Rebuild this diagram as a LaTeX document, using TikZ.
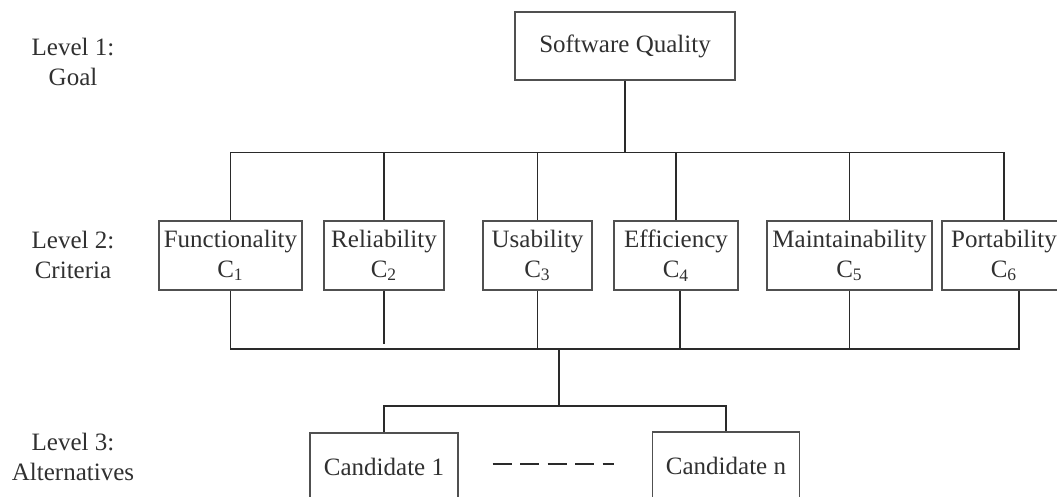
\documentclass[tikz,border=0pt]{standalone}
\usepackage{fontspec}
\setmainfont{Liberation Serif}
\usepackage{xcolor}
\definecolor{boxgray}{HTML}{505050}
\definecolor{linegray}{HTML}{2A2A2A}
\definecolor{txtgray}{HTML}{303030}
\usepackage{tikz}
\usetikzlibrary{calc,positioning}

\begin{document}
\begin{tikzpicture}[x=0.5pt,y=-0.5pt,
                      font=\fontsize{12.5}{15}\selectfont,
                      box/.style={rectangle,draw=boxgray,line width=0.7pt,
                                  minimum height=34.5pt,inner sep=1pt,
                                  align=center,text=txtgray},
                      lvl/.style={align=center,text=txtgray},
                      link/.style={draw=linegray,line width=0.6pt}]
    \useasboundingbox (0,0) rectangle (1057,497);
    % levels
    \node[lvl] (lv1) at (73,62) {Level 1:\\Goal};
    \node[lvl] (lv2) at (73,255) {Level 2:\\Criteria};
    \node[lvl] (lv3) at (73,457) {Level 3:\\Alternatives};
    % goal
    \node[box,minimum width=110pt,minimum height=34pt] (sq) at (625,46) {Software Quality};
    % criteria
    \node[box,minimum width=71.5pt] (fun) at (230.5,255.5) {Functionality\\C\textsubscript{1}};
    \node[box,minimum width=60pt] (rel) at (384,255.5) {Reliability\\C\textsubscript{2}};
    \node[box,minimum width=54.5pt] (usa) at (537.5,255.5) {Usability\\C\textsubscript{3}};
    \node[box,minimum width=62pt] (eff) at (676,255.5) {Efficiency\\C\textsubscript{4}};
    \node[box,minimum width=82.5pt] (mai) at (849.5,255.5) {Maintainability\\C\textsubscript{5}};
    \node[box,minimum width=62pt] (por) at (1004,255.5) {Portability\\C\textsubscript{6}};
    % alternatives
    \node[box,minimum width=74pt,minimum height=34pt] (can1) at (384,467) {Candidate 1};
    \node[box,minimum width=73.5pt,minimum height=34pt] (cann) at (726,466) {Candidate n};
    % goal to criteria
    \draw[link,line width=0.9pt] (sq.south) -- ++(0,72) coordinate (tophub);
    \foreach \c in {fun,rel,usa,eff,mai,por}
      \draw[link] (tophub) -| (\c.north);
    % criteria to alternatives
    \coordinate (lowhub) at (559,349);
    \draw[link] (fun.south) |- (lowhub);
    \draw[link] (rel.south) -- ($(rel.south |- lowhub)+(0,-5)$);
    \draw[link] (usa.south) |- (lowhub);
    \draw[link] ($(eff.south)+(4,0)$) |- (lowhub);
    \draw[link] (mai.south) |- (lowhub);
    \draw[link] ($(por.south)+(15,0)$) |- (lowhub);
    \draw[link] (lowhub) -- ++(0,57) coordinate (althub);
    \draw[link] (althub) -| (can1.north);
    \draw[link] (althub) -| (cann.north);
    \draw[linegray,line width=1pt,dash pattern=on 9.5pt off 4.25pt]
      ($(can1.east)+(34,-3)$) -- ($(cann.west)+(-38,-2)$);
  \end{tikzpicture}
\end{document}
